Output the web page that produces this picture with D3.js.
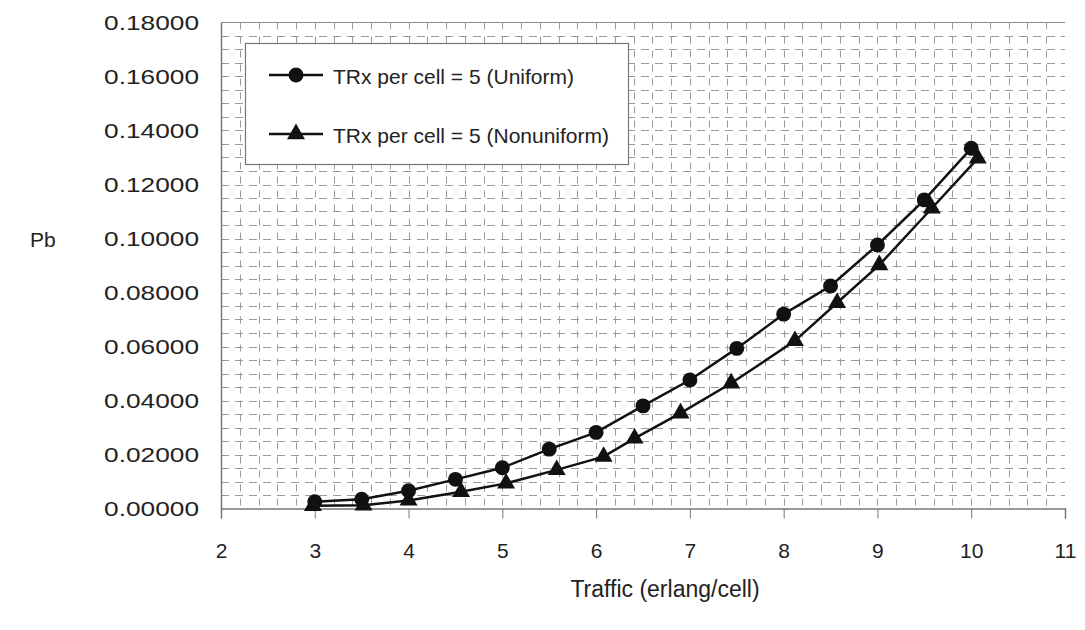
<!DOCTYPE html>
<html>
<head>
<meta charset="utf-8">
<style>
  body { margin: 0; background: #fff; }
  svg { display: block; font-family: "Liberation Sans", Arial, sans-serif; }
</style>
</head>
<body>
<div id="chart"></div>
<script src="https://cdn.jsdelivr.net/npm/d3@7"></script>
<script>
// blocking probability vs offered traffic, two TRx layouts
const trafficUniform = [3, 3.5, 4, 4.5, 5, 5.5, 6, 6.5, 7, 7.5, 8, 8.5, 9, 9.5, 10];
const pbUniform = [0.0025, 0.0034, 0.0066, 0.0108, 0.0151, 0.0220, 0.0282, 0.0380, 0.0476, 0.0593, 0.0720, 0.0824, 0.0976, 0.1143, 0.1334];

const trafficNonuniform = [2.98, 3.52, 4.0, 4.56, 5.04, 5.58, 6.08, 6.41, 6.9, 7.44, 8.12, 8.57, 9.02, 9.58, 10.07];
const pbNonuniform = [0.0010, 0.0012, 0.0030, 0.0062, 0.0093, 0.0143, 0.0192, 0.0260, 0.0353, 0.0464, 0.0621, 0.0762, 0.0902, 0.1112, 0.1297];

const xTicks = [2, 3, 4, 5, 6, 7, 8, 9, 10, 11];
const yTicks = [0, 0.02, 0.04, 0.06, 0.08, 0.10, 0.12, 0.14, 0.16, 0.18];
const seriesNames = ["TRx per cell = 5 (Uniform)", "TRx per cell = 5 (Nonuniform)"];

const width = 1085, height = 630;
const plot = { left: 221, right: 1065, top: 22.5, bottom: 508.5 };

const svg = d3.select("#chart").append("svg")
    .attr("width", width)
    .attr("height", height);

const x = d3.scaleLinear().domain([2, 11]).range([plot.left, plot.right]);
const y = d3.scaleLinear().domain([0, 0.18]).range([plot.bottom, plot.top]);

// dashed minor grid: 0.2 erlang across, 0.005 up
const grid = svg.append("g").attr("stroke", "#999").attr("stroke-width", 1);
grid.selectAll(".vgrid")
    .data(d3.range(1, 45).map(i => 2 + i * 0.2))
    .join("line")
    .attr("x1", d => Math.round(x(d)) + 0.5).attr("x2", d => Math.round(x(d)) + 0.5)
    .attr("y1", plot.top).attr("y2", plot.bottom)
    .attr("stroke-dasharray", "7,7");
grid.selectAll(".hgrid")
    .data(d3.range(1, 36).map(i => i * 0.005))
    .join("line")
    .attr("x1", plot.left).attr("x2", plot.right)
    .attr("y1", d => Math.round(y(d)) + 0.5).attr("y2", d => Math.round(y(d)) + 0.5)
    .attr("stroke-dasharray", "8,6");

// frame lines
svg.append("line")
    .attr("x1", plot.left).attr("x2", plot.right)
    .attr("y1", plot.top).attr("y2", plot.top)
    .attr("stroke", "#8c8c8c");

// y axis
const yAxis = svg.append("g")
    .attr("transform", `translate(${plot.left},0)`)
    .call(d3.axisLeft(y).tickValues(yTicks).tickFormat(d3.format(".5f")).tickSize(0).tickPadding(22));
yAxis.select(".domain").attr("stroke", "#777").attr("stroke-width", 1.5);
yAxis.selectAll("text")
    .attr("fill", "#222")
    .style("font-size", "21px");

// x axis on the zero line, labels dropped well below it
const xAxis = svg.append("g")
    .attr("transform", `translate(0,${plot.bottom})`)
    .call(d3.axisBottom(x).tickValues(xTicks).tickSize(10).tickPadding(25));
xAxis.select(".domain").attr("stroke", "#777").attr("stroke-width", 1.5);
xAxis.selectAll(".tick line").attr("stroke", "#777");
xAxis.selectAll("text")
    .attr("fill", "#222")
    .style("font-size", "21px");

// axis titles
svg.append("text")
    .attr("x", 30).attr("y", 247)
    .attr("fill", "#222")
    .style("font-size", "21px")
    .text("Pb");
svg.append("text")
    .attr("x", 665).attr("y", 597)
    .attr("text-anchor", "middle")
    .attr("fill", "#222")
    .style("font-size", "23px")
    .text("Traffic (erlang/cell)");

// widen the y labels a little, as they read in the printed figure
yAxis.selectAll("text").each(function () {
    const w = this.getComputedTextLength();
    d3.select(this).attr("textLength", w * 1.25).attr("lengthAdjust", "spacingAndGlyphs");
});

const line = d3.line().x(d => x(d[0])).y(d => y(d[1]));
const circle = d3.symbol().type(d3.symbolCircle).size(175);
const triangle = d3.symbol().type(d3.symbolTriangle).size(140);

const series = [
    { name: seriesNames[0], pts: d3.zip(trafficUniform, pbUniform), sym: circle },
    { name: seriesNames[1], pts: d3.zip(trafficNonuniform, pbNonuniform), sym: triangle }
];

series.forEach(s => {
    svg.append("path")
        .datum(s.pts)
        .attr("fill", "none")
        .attr("stroke", "#111")
        .attr("stroke-width", 2.5)
        .attr("d", line);
    svg.append("g").selectAll("path")
        .data(s.pts)
        .join("path")
        .attr("transform", d => `translate(${x(d[0])},${y(d[1])})`)
        .attr("fill", "#111")
        .attr("d", s.sym);
});

// legend
const legend = svg.append("g");
legend.append("rect")
    .attr("x", 245.5).attr("y", 43.5)
    .attr("width", 383).attr("height", 121)
    .attr("fill", "#fff")
    .attr("stroke", "#777")
    .attr("stroke-width", 1.2);
const rows = legend.selectAll(".row")
    .data(series)
    .join("g")
    .attr("transform", (d, i) => `translate(0,${i === 0 ? 75 : 134})`);
rows.append("line")
    .attr("x1", 269).attr("x2", 323)
    .attr("stroke", "#111").attr("stroke-width", 2.5);
rows.append("path")
    .attr("transform", "translate(296,0)")
    .attr("fill", "#111")
    .attr("d", d => d.sym());
rows.append("text")
    .attr("x", 333).attr("y", 9)
    .attr("fill", "#222")
    .style("font-size", "21px")
    .text(d => d.name);
</script>
</body>
</html>
